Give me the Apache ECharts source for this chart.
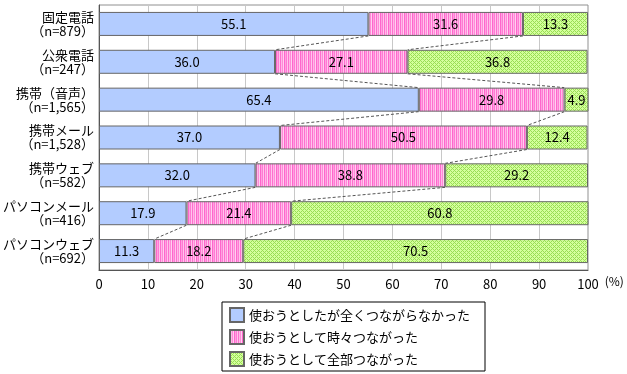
<!DOCTYPE html>
<html><head><meta charset="utf-8">
<script src="https://cdn.jsdelivr.net/npm/echarts@6/dist/echarts.min.js"></script>
<style>html,body{margin:0;padding:0;background:#fff}#c{width:627px;height:374px}</style>
</head><body><div id="c"></div>
<script>
const categories = ['固定電話\n（n=879）','公衆電話\n（n=247）','携帯（音声）\n（n=1,565）','携帯メール\n（n=1,528）','携帯ウェブ\n（n=582）','パソコンメール\n（n=416）','パソコンウェブ\n（n=692）'];
const seriesNames = ['使おうとしたが全くつながらなかった','使おうとして時々つながった','使おうとして全部つながった'];
const never = [55.1, 36.0, 65.4, 37.0, 32.0, 17.9, 11.3];
const sometimes = [31.6, 27.1, 29.8, 50.5, 38.8, 21.4, 18.2];
const always = [13.3, 36.8, 4.9, 12.4, 29.2, 60.8, 70.5];
const xTicks = [0,10,20,30,40,50,60,70,80,90,100];

function makePattern(w, h, draw){
  const c = document.createElement('canvas'); c.width = w; c.height = h;
  draw(c.getContext('2d')); return c;
}
const pinkCanvas = makePattern(8, 4, ctx => {
  const cols = ['#ff6fcf','#ffb8e8','#ff8ad8','#ffd0f0','#ff66cc','#ffa0e0','#ff7ad4','#ffc4ec'];
  cols.forEach((c,i)=>{ctx.fillStyle=c;ctx.fillRect(i,0,1,4);});
});
const greenCanvas = makePattern(4, 4, ctx => {
  ctx.fillStyle = '#d4ff9c'; ctx.fillRect(0,0,4,4);
  ctx.fillStyle = '#99dd55';
  ctx.fillRect(0,0,1,1); ctx.fillRect(1,1,1,1); ctx.fillRect(2,2,1,1); ctx.fillRect(3,3,1,1);
  ctx.fillRect(3,1,1,1); ctx.fillRect(1,3,1,1);
});
const blueColor = '#b3ccff';
const pinkColor = {image: pinkCanvas, repeat: 'repeat'};
const greenColor = {image: greenCanvas, repeat: 'repeat'};

const cum1 = never.slice();
const cum2 = never.map((v,i)=>v+sometimes[i]);
const connData = [];
for (let i=0;i<categories.length-1;i++){
  connData.push([cum1[i], i, cum1[i+1]]);
  connData.push([cum2[i], i, cum2[i+1]]);
}
const BAR = 24;
const font = "'Noto Sans CJK JP', sans-serif";
const lbl = {show:true, position:'inside', color:'#000', fontSize:13, fontFamily:font, formatter: p => p.value.toFixed(1)};

const chart = echarts.init(document.getElementById('c'));
chart.setOption({
  animation:false,
  textStyle:{fontFamily:font},
  grid:{left:97, right:39, top:5, bottom:104, show:true, borderColor:'#909090', borderWidth:1},
  xAxis:{type:'value', min:0, max:100, interval:10,
    axisLine:{show:true, lineStyle:{color:'#555'}},
    axisTick:{show:false},
    splitLine:{show:true, lineStyle:{color:'#c8c8c8'}},
    axisLabel:{color:'#000', fontSize:13, margin:8},
    name:'(%)', nameLocation:'end', nameGap:12,
    nameTextStyle:{color:'#000', fontSize:12, verticalAlign:'top', padding:[5,0,0,0]}
  },
  yAxis:{type:'category', data:categories, inverse:true,
    axisLine:{show:true, lineStyle:{color:'#555'}},
    axisTick:{show:false},
    axisLabel:{color:'#000', fontSize:13, lineHeight:14, margin:5, align:'right'}
  },
  legend:{orient:'vertical', left:222, top:302, width:256, height:70, data:seriesNames,
    itemWidth:14, itemHeight:14, itemGap:6, icon:'rect',
    borderColor:'#000', borderWidth:1, padding:[5,15,4,7],
    textStyle:{color:'#000', fontSize:13, fontFamily:font}},
  series:[
    {name:seriesNames[0], type:'bar', stack:'t', data:never, barWidth:BAR,
      itemStyle:{color:blueColor, borderColor:'#666', borderWidth:1}, label:lbl},
    {name:seriesNames[1], type:'bar', stack:'t', data:sometimes, barWidth:BAR,
      itemStyle:{color:pinkColor, borderColor:'#666', borderWidth:1}, label:lbl},
    {name:seriesNames[2], type:'bar', stack:'t', data:always, barWidth:BAR,
      itemStyle:{color:greenColor, borderColor:'#666', borderWidth:1}, label:lbl},
    {type:'custom', data:connData, encode:{x:0, y:1}, z:5, silent:true,
      renderItem:(params, api)=>{
        const i = api.value(1);
        const p1 = api.coord([api.value(0), i]);
        const p2 = api.coord([api.value(2), i+1]);
        return {type:'line', shape:{x1:p1[0], y1:p1[1]+BAR/2, x2:p2[0], y2:p2[1]-BAR/2},
          style:{stroke:'#555', lineWidth:1, lineDash:[3,2]}};
      }}
  ]
});
</script></body></html>
